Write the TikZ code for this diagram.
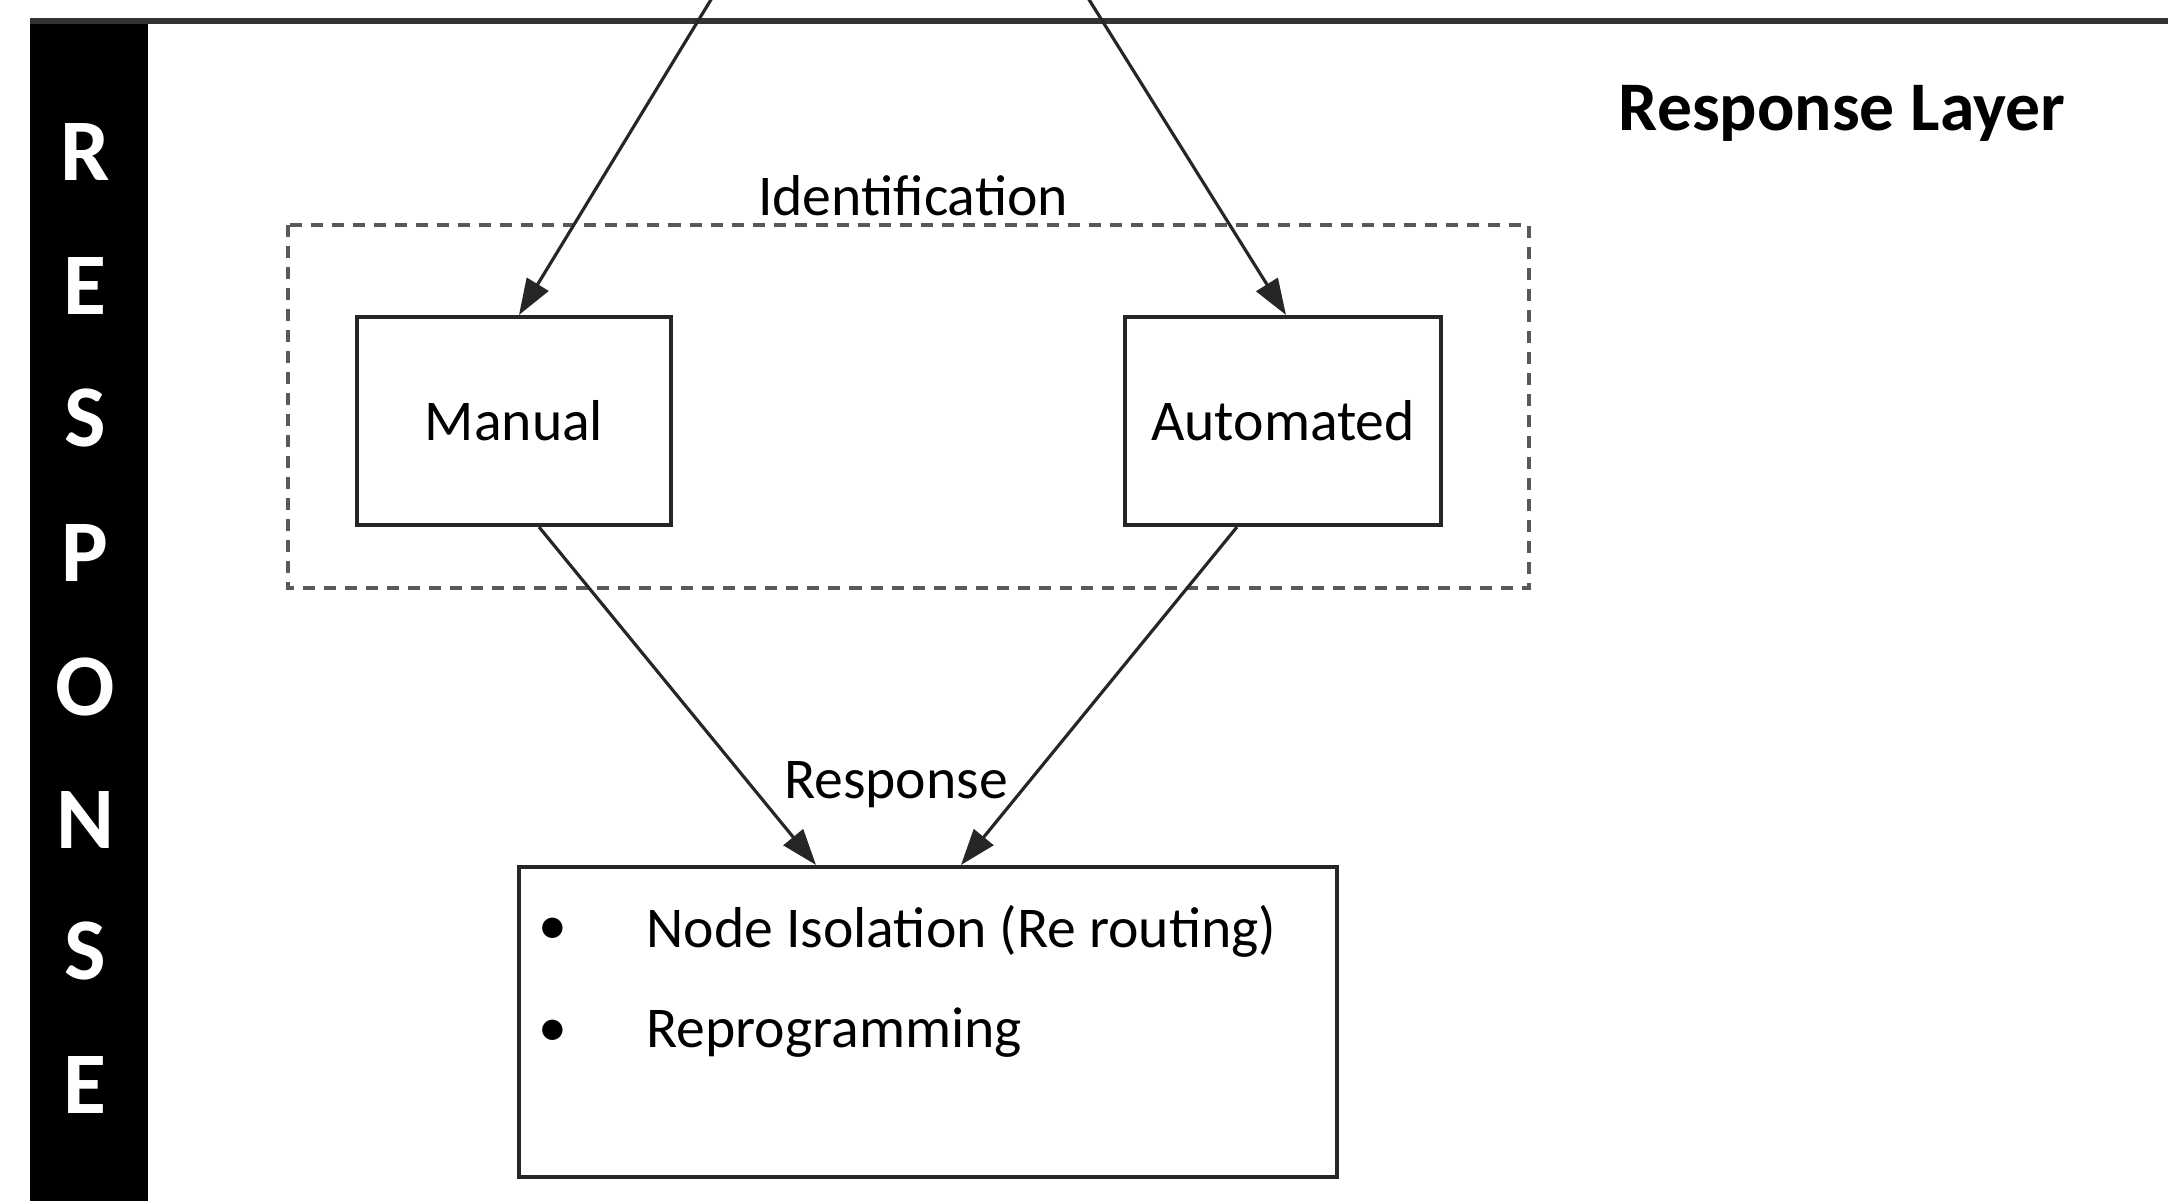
\documentclass[tikz,border=0pt]{standalone}
\usepackage{fontspec}
\setmainfont{Carlito}
\usetikzlibrary{arrows.meta}

\begin{document}
\begin{tikzpicture}[x=0.01cm,y=-0.01cm,
  box/.style={draw=black!85,line width=1.1pt,inner sep=0pt},
  label/.style={font=\fontsize{16.4}{18}\selectfont},
  flow/.style={draw=black!85,line width=0.9pt,-{Triangle[length=0.36cm,width=0.25cm]}},
  barletter/.style={text=white,font=\fontsize{25}{27}\selectfont\bfseries}]
  \useasboundingbox (0,0) rectangle (2168,1201);

  % side banner and top rule
  \fill[black] (30,21) rectangle (148,1201);
  \draw[line width=1.6pt,black!80] (30,21) -- (2168,21);
  \foreach \ch/\yy [count=\i] in {R/152,E/286,S/418,P/553,O/687,N/820,S/951,E/1085}
    \node[barletter] (bar\i) at (85,\yy) {\ch};

  \node[font=\fontsize{19.8}{22}\selectfont\bfseries] (title) at (1842,113) {Response Layer};

  % identification group
  \draw[black!65,line width=1.1pt,dash pattern=on 0.12cm off 0.09cm] (288,225) rectangle (1529,588);
  \node[label] (ident) at (913,196) {Identification};

  \node[box,minimum width=3.14cm,minimum height=2.08cm] (manual) at (514,421) {};
  \node[label] at (manual.center) {Manual};
  \node[box,minimum width=3.15cm,minimum height=2.08cm] (auto) at (1283,421) {};
  \node[label] at (auto.center) {Automated};

  % response box
  \node[box,minimum width=8.18cm,minimum height=3.10cm] (resp) at (928,1022) {};
  \node[label] (resplbl) at (896,785) {Response};
  \node[label] (b1) at (553,931) {\textbullet};
  \node[label,anchor=west] (t1) at (634,931) {Node Isolation (Re routing)};
  \node[label] (b2) at (553,1033) {\textbullet};
  \node[label,anchor=west] (t2) at (634,1033) {Reprogramming};

  % incoming connectors from the layer above
  \coordinate (inL) at (712,-2);
  \coordinate (inR) at (1088,-2);
  \draw[flow] (inL) -- (manual.north -| 519,0);
  \draw[flow] (inR) -- (auto.north -| 1286,0);

  % connectors to the response box
  \draw[flow] (manual.south -| 539,0) -- (resp.north -| 816,0);
  \draw[flow] (auto.south -| 1237,0) -- (resp.north -| 961,0);
\end{tikzpicture}
\end{document}
